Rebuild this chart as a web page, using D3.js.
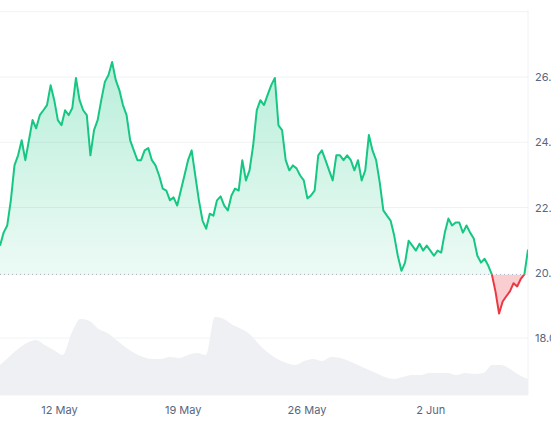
<!DOCTYPE html>
<html><head><meta charset="utf-8">
<script src="https://cdn.jsdelivr.net/npm/d3@7"></script>
<style>body{margin:0;background:#fff}svg{display:block;font-family:Inter,"Noto Sans",sans-serif}</style>
</head><body><svg id="c" width="551" height="431"></svg>
<script>
const startTime = new Date(2024,4,8,15,22);
const endTime = new Date(2024,5,7,12,0);
const prices = [20.83,21.23,21.45,22.22,23.29,23.60,24.06,23.45,24.06,24.68,24.43,24.83,24.98,25.14,25.75,25.29,24.68,24.52,24.98,24.83,25.05,25.97,25.29,24.98,24.83,23.60,24.37,24.68,25.29,25.85,26.06,26.46,25.91,25.60,25.14,24.83,24.06,23.75,23.45,23.45,23.75,23.82,23.45,23.29,22.98,22.58,22.52,22.22,22.31,22.06,22.52,22.98,23.45,23.75,22.98,22.22,21.60,21.35,21.81,21.75,22.22,22.34,22.06,21.91,22.37,22.58,22.52,23.45,22.83,23.14,23.90,24.98,25.29,25.14,25.45,25.75,25.97,24.52,24.37,23.45,23.14,23.29,23.20,22.98,22.83,22.28,22.37,22.52,23.60,23.75,23.45,23.14,22.83,23.60,23.60,23.45,23.60,23.45,23.14,23.45,22.83,23.14,24.22,23.75,23.45,22.77,21.91,21.75,21.60,21.14,20.52,20.06,20.31,20.98,20.83,20.68,20.89,20.68,20.83,20.68,20.52,20.68,20.62,21.23,21.66,21.45,21.54,21.54,21.23,21.45,21.23,21.05,20.52,20.31,20.43,20.22,19.95,19.43,18.75,19.12,19.28,19.43,19.68,19.58,19.81,19.95,20.71];
const volumes = [30,38,46,52,55,50,45,40,62,76,74,66,62,55,48,42,38,36,36,38,37,40,42,40,78,76,70,66,60,50,42,36,32,30,34,36,34,38,37,34,30,26,22,18,16,18,20,20,22,22,22,20,22,21,22,30,30,26,20,16];
const yTicks = [18,20,22,24,26];
const xTickDates = [new Date(2024,4,12),new Date(2024,4,19),new Date(2024,4,26),new Date(2024,5,2)];
const xTickLabels = ["12 May","19 May","26 May","2 Jun"];
const baseline = 19.95;

const svg = d3.select("#c");
const L=0,R=528,T=10,B=395;
const x = d3.scaleTime().domain([startTime,endTime]).range([L,R]);
const y = d3.scaleLinear().domain([18,26]).range([338,77]);
const step=(endTime-startTime)/(prices.length-1);
const data = prices.map((v,i)=>({t:new Date(+startTime+i*step),v}));
const vstep=(endTime-startTime)/(volumes.length-1);
const vdata = volumes.map((v,i)=>({t:new Date(+startTime+i*vstep),v}));
const yv = d3.scaleLinear().domain([0,100]).range([B,B-100]);

svg.append("g").selectAll("line").data(yTicks.filter(d=>d!==20).concat([28])).join("line")
 .attr("x1",L).attr("x2",R).attr("y1",d=>y(d)).attr("y2",d=>y(d)).attr("stroke","#eff2f5");
svg.append("line").attr("x1",L).attr("x2",R).attr("y1",B).attr("y2",B).attr("stroke","#eff2f5");
svg.append("line").attr("x1",R).attr("x2",R).attr("y1",T).attr("y2",B).attr("stroke","#eff2f5");

svg.append("path").datum(vdata).attr("fill","#eef0f3")
 .attr("d",d3.area().curve(d3.curveMonotoneX).x(d=>x(d.t)).y0(B).y1(d=>yv(d.v)));

const defs=svg.append("defs");
const g=defs.append("linearGradient").attr("id","gg").attr("x1",0).attr("x2",0).attr("y1",0).attr("y2",1);
g.append("stop").attr("offset","0%").attr("stop-color","#16c784").attr("stop-opacity",0.3);
g.append("stop").attr("offset","100%").attr("stop-color","#16c784").attr("stop-opacity",0.04);
defs.append("clipPath").attr("id","above").append("rect").attr("x",L).attr("y",0).attr("width",R-L).attr("height",y(baseline));
defs.append("clipPath").attr("id","below").append("rect").attr("x",L).attr("y",y(baseline)).attr("width",R-L).attr("height",431);

const area=d3.area().x(d=>x(d.t)).y0(y(baseline)).y1(d=>y(d.v));
const line=d3.line().x(d=>x(d.t)).y(d=>y(d.v));
svg.append("path").datum(data).attr("clip-path","url(#above)").attr("fill","url(#gg)").attr("d",area);
svg.append("path").datum(data).attr("clip-path","url(#below)").attr("fill","#ea3943").attr("fill-opacity",0.25).attr("d",area);
svg.append("line").attr("x1",L).attr("x2",R).attr("y1",y(baseline)).attr("y2",y(baseline))
 .attr("stroke","#a6b0c3").attr("stroke-dasharray","1,3");
svg.append("path").datum(data).attr("clip-path","url(#above)").attr("fill","none").attr("stroke","#16c784").attr("stroke-width",2).attr("stroke-linejoin","round").attr("d",line);
svg.append("path").datum(data).attr("clip-path","url(#below)").attr("fill","none").attr("stroke","#ea3943").attr("stroke-width",2).attr("stroke-linejoin","round").attr("d",line);

svg.append("g").selectAll("text").data(yTicks).join("text")
 .attr("x",535).attr("y",d=>y(d)+4).attr("font-size",11).attr("fill","#58667e").text(d=>d.toFixed(2));
svg.append("g").selectAll("text").data(xTickDates).join("text")
 .attr("x",d=>x(d)).attr("y",414).attr("text-anchor","middle").attr("font-size",11).attr("fill","#58667e")
 .text((d,i)=>xTickLabels[i]);
</script></body></html>
